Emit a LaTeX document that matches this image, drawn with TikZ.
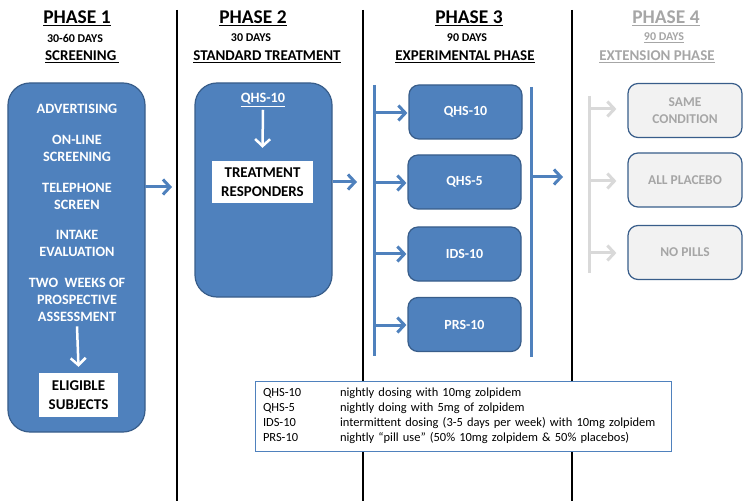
\documentclass[tikz,border=0pt]{standalone}
\usepackage{fontspec}
\setmainfont{Carlito}
\usetikzlibrary{arrows.meta}
\definecolor{boxblue}{HTML}{4F81BD}
\definecolor{edgeblue}{HTML}{385D8A}
\definecolor{lgray}{HTML}{A6A6A6}
\definecolor{agray}{HTML}{D9D9D9}
\definecolor{pgray}{HTML}{F2F2F2}
\begin{document}
\begin{tikzpicture}[x=1bp,y=-1bp,
  phasetitle/.style={font=\fontsize{19.5}{22}\selectfont\bfseries, inner sep=0pt},
  daystxt/.style={font=\fontsize{12}{14}\selectfont\bfseries, inner sep=0pt},
  subtitle/.style={font=\fontsize{15}{17}\selectfont\bfseries, inner sep=0pt},
  bigbox/.style={draw=edgeblue, fill=boxblue, line width=1.2bp, rounded corners=22bp},
  intext/.style={text=white, font=\fontsize{14.3}{17}\selectfont\bfseries, align=center, inner sep=0pt},
  whitebox/.style={fill=white, font=\fontsize{15}{18.5}\selectfont\bfseries, align=center, inner sep=0pt},
  armbox/.style={draw=edgeblue, fill=boxblue, line width=1.2bp, rounded corners=10bp, text=white,
    font=\fontsize{14}{17}\selectfont\bfseries, minimum width=113bp, minimum height=54bp, align=center},
  extbox/.style={draw=edgeblue, fill=pgray, line width=1.2bp, rounded corners=10bp, text=lgray,
    font=\fontsize{13.5}{17}\selectfont\bfseries, minimum width=114bp, minimum height=54bp, align=center},
  bluearrow/.style={draw=boxblue, line width=3bp, -{Straight Barb[length=7bp,width=15bp]}},
  grayarrow/.style={draw=agray, line width=3bp, -{Straight Barb[length=7bp,width=15bp]}},
  whitearrow/.style={draw=white, line width=2.5bp, -{Straight Barb[length=7bp,width=15bp]}},
  bar/.style={draw=boxblue, line width=3bp},
  graybar/.style={draw=agray, line width=3bp},
  divider/.style={draw=black, line width=1.6bp}
]
\useasboundingbox (0,0) rectangle (751,501);

% dividers
\coordinate (d1t) at (177,10); \coordinate (d1b) at (177,501);
\coordinate (d2t) at (363,10); \coordinate (d2b) at (363,501);
\coordinate (d3t) at (572,10); \coordinate (d3b) at (572,501);
\draw[divider] (d1t) -- (d1b);
\draw[divider] (d2t) -- (d2b);
\draw[divider] (d3t) -- (d3b);

% headings
\node[phasetitle] (h1) at (77,18) {\underline{PHASE 1}};
\node[daystxt] (dy1) at (75,38) {30-60 DAYS};
\node[subtitle] (s1) at (82,57) {\underline{SCREENING\,}};

\node[phasetitle] (h2) at (253,18) {\underline{PHASE 2}};
\node[daystxt] (dy2) at (251,38) {30 DAYS};
\node[subtitle] (s2) at (267,57) {\underline{STANDARD TREATMENT}};

\node[phasetitle] (h3) at (469,18) {\underline{PHASE 3}};
\node[daystxt] (dy3) at (467,38) {90 DAYS};
\node[subtitle] (s3) at (465,57) {\underline{EXPERIMENTAL PHASE}};

\node[phasetitle, text=lgray] (h4) at (666,18) {\underline{PHASE 4}};
\node[daystxt, text=lgray] (dy4) at (664,38) {\underline{90 DAYS}};
\node[subtitle, text=lgray] (s4) at (657,57) {\underline{EXTENSION PHASE}};

% Phase 1
\node[bigbox, minimum width=137bp, minimum height=349bp] (p1) at (76.5,257.5) {};
\node[intext] (t1) at (77,109) {ADVERTISING};
\node[intext] (t2) at (77,148.5) {ON-LINE\\SCREENING};
\node[intext] (t3) at (77,196) {TELEPHONE\\SCREEN};
\node[intext] (t4) at (77,243.5) {INTAKE\\EVALUATION};
\node[intext] (t5) at (77,299.5) {TWO\ \ WEEKS OF\\PROSPECTIVE\\ASSESSMENT};
\node[whitebox, minimum width=79bp, minimum height=44bp] (elig) at (78.5,395) {ELIGIBLE\\SUBJECTS};
\draw[whitearrow] ([yshift=-5bp]t5.south) -- ([yshift=6bp]elig.north);

\coordinate (a1s) at (145,187);
\coordinate (a1e) at (172,187);
\draw[bluearrow] (a1s) -- (a1e);

% Phase 2
\node[bigbox, minimum width=137bp, minimum height=214bp] (p2) at (263.5,190) {};
\node[intext] (q2) at (263,100) {\underline{QHS-10}};
\node[whitebox, minimum width=101bp, minimum height=42bp] (tr) at (262.5,182) {TREATMENT\\RESPONDERS};
\draw[whitearrow] ([yshift=-3bp]q2.south) -- ([yshift=13bp]tr.north);

\coordinate (a2e) at (357,182);
\draw[bluearrow] (p2.east |- a2e) -- (a2e);

% Phase 3
\coordinate (lbt) at (374,85); \coordinate (lbb) at (374,356);
\draw[bar] (lbt) -- (lbb);
\node[armbox] (r1) at (465.5,112) {QHS-10};
\node[armbox] (r2) at (464.5,182) {QHS-5};
\node[armbox] (r3) at (464.5,254) {IDS-10};
\node[armbox] (r4) at (464.5,324.5) {PRS-10};
\foreach \r/\yy in {r1/113,r2/183,r3/254,r4/325} {
  \draw[bluearrow] (374,\yy) -- ([xshift=-1bp]\r.west |- 0,\yy);
}
\coordinate (rbt) at (531,87); \coordinate (rbb) at (531,357);
\draw[bar] (rbt) -- (rbb);
\coordinate (a3e) at (563,177);
\draw[bluearrow] (531,177) -- (a3e);

% Phase 4
\coordinate (gbt) at (589,96); \coordinate (gbb) at (589,273);
\draw[graybar] (gbt) -- (gbb);
\node[extbox] (e1) at (685,110.5) {SAME\\CONDITION};
\node[extbox] (e2) at (685,180) {ALL PLACEBO};
\node[extbox] (e3) at (685,252.5) {NO PILLS};
\foreach \e/\yy in {e1/109,e2/181,e3/253} {
  \draw[grayarrow] (589,\yy) -- ([xshift=-11bp]\e.west |- 0,\yy);
}

% legend
\node[draw=boxblue, line width=1bp, fill=white, text width=400bp, inner xsep=8bp, minimum height=70bp,
  align=left, font=\fontsize{12.5}{15}\selectfont] (lg) at (463,416) {%
\makebox[77bp][l]{QHS-10}nightly dosing with 10mg zolpidem\\
\makebox[77bp][l]{QHS-5}nightly doing with 5mg of zolpidem\\
\makebox[77bp][l]{IDS-10}intermittent dosing (3-5 days per week) with 10mg zolpidem\\
\makebox[77bp][l]{PRS-10}nightly “pill use” (50\% 10mg zolpidem \& 50\% placebos)};
\end{tikzpicture}
\end{document}
